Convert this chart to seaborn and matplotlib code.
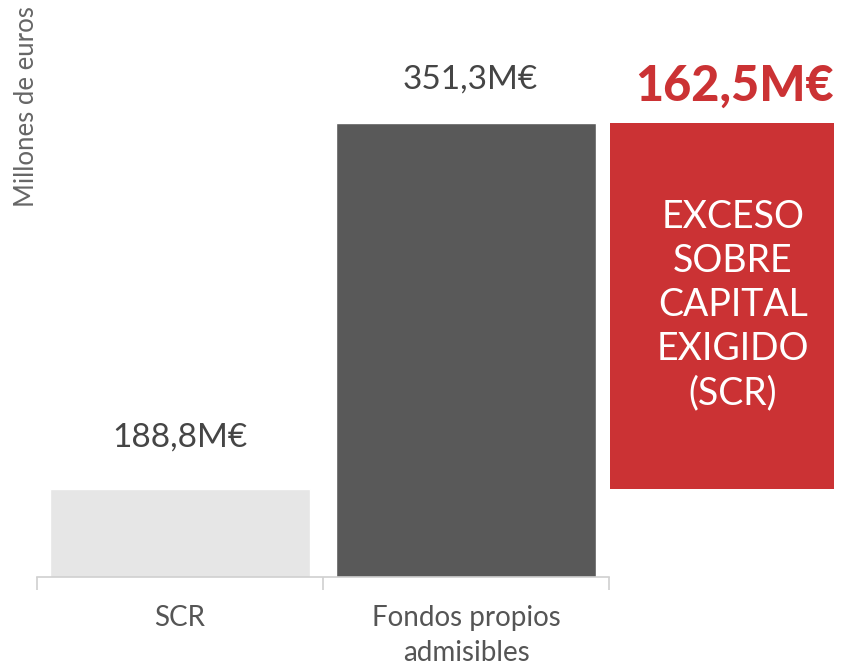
import matplotlib
matplotlib.use("Agg")
import matplotlib.pyplot as plt
import seaborn as sns
import pandas as pd

# ---- data ----
categories = ["SCR", "Fondos propios\nadmisibles"]
values = [188.8, 351.3]
value_labels = ["188,8M€", "351,3M€"]
excess_label = "162,5M€"
excess_text = "EXCESO\nSOBRE\nCAPITAL\nEXIGIDO\n(SCR)"
ylabel = "Millones de euros"
bar_colors = ["#e6e6e6", "#595959"]
red = "#cb3234"

sns.set_theme(style="white")
plt.rcParams['font.family'] = ['Lato', 'DejaVu Sans']

W, H = 844, 665
fig = plt.figure(figsize=(W / 100, H / 100), dpi=100)
cat_px = 286.0
x0_px, base_px = 37.0, 577.0
ax = fig.add_axes([x0_px / W, (H - base_px) / H, (W - x0_px) / W, base_px / H])

df = pd.DataFrame({"cat": categories, "val": values})
sns.barplot(data=df, x="cat", y="val", hue="cat", palette=bar_colors,
            width=260 / cat_px, legend=False, ax=ax, saturation=1)

# scale: baseline value 150
ymin = 150.0
px_per_unit = (base_px - 123) / (values[1] - ymin)
ax.set_ylim(ymin, ymin + base_px / px_per_unit)
ax.set_xlim(-0.5, -0.5 + (W - x0_px) / cat_px)

# excess bar
excess = values[1] - values[0]
left = 1.5 + 1 / cat_px
wid = 224 / cat_px
ax.bar(left, excess, bottom=values[0], width=wid, align="edge", color=red, linewidth=0)

txt = "#454545"
# value labels
ax.annotate(value_labels[0], (0, values[0]), xytext=(0, 37), textcoords="offset pixels",
            ha="center", va="bottom", fontsize=24, color=txt, fontweight="normal")
ax.annotate(value_labels[1], (1, values[1]), xytext=(4, 28), textcoords="offset pixels",
            ha="center", va="bottom", fontsize=24, color=txt, fontweight="normal")
ax.annotate(excess_label, (left + wid, values[1]), xytext=(0, 14), textcoords="offset pixels",
            ha="right", va="bottom", fontsize=35, color=red, fontweight="black")
ax.annotate(excess_text, (left + wid / 2, values[1]), xytext=(11, -76), textcoords="offset pixels",
            ha="center", va="top", fontsize=27, color="white", fontweight="normal",
            linespacing=1.28)

# axes styling
for s in ["top", "right", "left"]:
    ax.spines[s].set_visible(False)
ax.spines["bottom"].set_color("#d0d0d0")
ax.spines["bottom"].set_linewidth(1.2)
ax.spines["bottom"].set_bounds(-0.5, 1.5)
ax.set_yticks([])
ax.set_xlabel("")
ax.set_ylabel("")
ax.set_xticks([0, 1])
ax.set_xticklabels(categories, fontsize=20, color="#555555", fontweight="normal", linespacing=1.45)
ax.tick_params(axis="x", which="major", length=0, pad=20)
ax.set_xticks([-0.5, 0.5, 1.5], minor=True)
ax.tick_params(axis="x", which="minor", length=9, width=1.2, color="#d0d0d0", bottom=True)

fig.text(27 / W, 1 - 107 / H, ylabel, rotation=90, ha="center", va="center",
         fontsize=18.5, color="#666666", fontweight="normal")

fig.savefig("out.png", dpi=100)
